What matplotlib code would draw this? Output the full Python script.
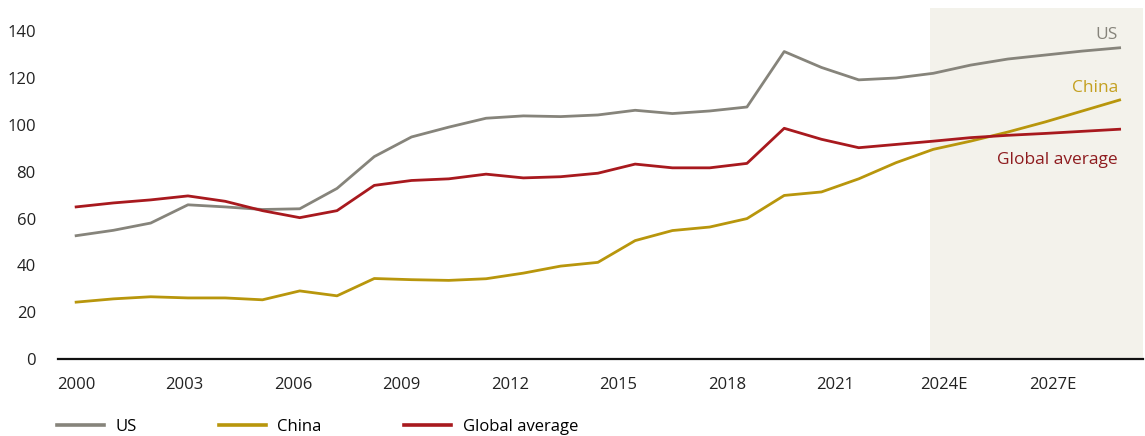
import numpy as np
import matplotlib
matplotlib.use("Agg")
from matplotlib import pyplot as plt

plt.rcParams['font.family'] = ['Open Sans', 'DejaVu Sans']
plt.rcParams['font.size'] = 12

# values (29 points across the axis)
us = [52.7, 55.0, 58.1, 65.9, 65.0, 63.9, 64.2, 72.9, 86.5, 94.9,
      99.1, 102.9, 103.9, 103.6, 104.3, 106.3, 104.9, 106.0, 107.7, 131.4,
      124.6, 119.3, 120.1, 122.1, 125.6, 128.2, 129.9, 131.6, 133.0]
china = [24.3, 25.7, 26.6, 26.1, 26.1, 25.3, 29.1, 27.0, 34.4, 33.9,
         33.6, 34.3, 36.7, 39.7, 41.3, 50.6, 54.9, 56.4, 60.0, 69.9,
         71.4, 77.0, 83.9, 89.6, 93.1, 97.0, 101.3, 106.0, 110.7]
global_avg = [65.0, 66.7, 68.0, 69.7, 67.4, 63.4, 60.4, 63.4, 74.2, 76.3,
              77.0, 79.0, 77.4, 77.9, 79.4, 83.3, 81.7, 81.7, 83.6, 98.6,
              93.9, 90.3, 91.7, 93.1, 94.6, 95.6, 96.4, 97.3, 98.2]

categories = [str(y) for y in range(2000, 2024)] + [str(y) + "E" for y in range(2024, 2030)]
tick_every = 3

c_us = '#86847b'
c_china = '#b8960c'
c_glob = '#a8191e'

n_cat = len(categories)
n_pts = len(us)
# points are spread over the category axis
x = np.arange(n_pts) * (n_cat - 1) / (n_pts - 1) * 0.995

fig = plt.figure(figsize=(11.45, 4.36), dpi=100)
ax = fig.add_axes([0.0507, 0.1766, 0.9475, 0.805])

ax.axvspan(23.6, n_cat - 0.5, color='#f3f2eb', lw=0, zorder=0)

ax.plot(x, us, color=c_us, lw=2.0, label='US', zorder=3)
ax.plot(x, china, color=c_china, lw=2.0, label='China', zorder=3)
ax.plot(x, global_avg, color=c_glob, lw=2.0, label='Global average', zorder=3)

ax.set_xlim(-0.5, n_cat - 0.5)
ax.set_ylim(0, 150)
ax.set_yticks(range(0, 141, 20))
ticks = list(range(0, n_cat, tick_every))
ax.set_xticks(ticks)
ax.set_xticklabels([categories[i] for i in ticks])
ax.tick_params(axis='both', length=0, colors='#222222', labelsize=12)
ax.tick_params(axis='y', pad=16)
ax.tick_params(axis='x', pad=13)

for s in ['left', 'right', 'top']:
    ax.spines[s].set_visible(False)
ax.spines['bottom'].set_linewidth(1.6)
ax.spines['bottom'].set_color('#111111')

ax.text(x[-1] - 0.05, 138.5, 'US', color=c_us, ha='right', va='center', fontsize=12.5)
ax.text(x[-1] - 0.05, 116, 'China', color='#c4a020', ha='right', va='center', fontsize=12.5)
ax.text(x[-1] - 0.05, 85, 'Global average', color='#8e1c1f', ha='right', va='center', fontsize=12.5)

leg = fig.legend(loc='center left', bbox_to_anchor=(57 / 1145, 1 - 427 / 436), ncol=3,
                 frameon=False, borderpad=0, borderaxespad=0,
                 handlelength=2.8, handletextpad=0.7, columnspacing=4.95, fontsize=12)
for h in leg.get_lines():
    h.set_linewidth(2.6)

fig.savefig('out.png', dpi=100)
